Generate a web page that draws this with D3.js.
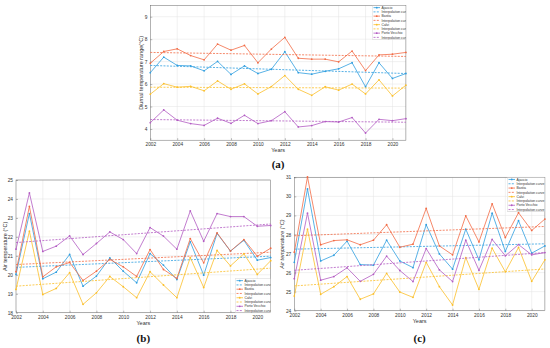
<!DOCTYPE html>
<html>
<head>
<meta charset="utf-8">
<script src="https://d3js.org/d3.v7.min.js"></script>
<style>
  body { margin: 0; background: #fff; }
  svg { display: block; }
  .tick text { font-family: "Liberation Sans", Arial, sans-serif; fill: #333; }
</style>
</head>
<body>
<svg id="chart"></svg>
<script>
// shared
let years = d3.range(2002, 2022);
let xTicks = [2002, 2004, 2006, 2008, 2010, 2012, 2014, 2016, 2018, 2020];
let stationNames = ["Ajaccio", "Bastia", "Calvi", "Porto Vecchio"];
let colors = ["#2f9ee0", "#f26b45", "#fbbf2a", "#b35cc3"];
let trendYears = [2002, 2021];

// (a) diurnal temperature range
let dtrAjaccio = [6.51, 7.20, 6.83, 6.81, 6.59, 7.01, 6.43, 6.81, 6.47, 6.66, 7.44, 6.51, 6.44, 6.57, 6.68, 6.95, 5.88, 6.95, 6.25, 6.47];
let dtrBastia = [6.93, 7.45, 7.57, 7.27, 7.08, 7.78, 7.51, 7.72, 6.95, 7.56, 8.08, 7.15, 7.11, 7.11, 6.99, 7.47, 6.60, 7.30, 7.33, 7.41];
let dtrCalvi = [5.55, 6.02, 5.86, 5.90, 5.70, 6.14, 5.77, 6.01, 5.56, 5.89, 6.38, 5.77, 5.50, 5.88, 5.73, 6.00, 5.56, 6.19, 5.47, 5.95];
let dtrPorto = [4.28, 4.85, 4.39, 4.24, 4.16, 4.48, 4.25, 4.61, 4.24, 4.37, 4.77, 4.09, 4.15, 4.33, 4.31, 4.51, 3.82, 4.43, 4.37, 4.46];
let dtrTrends = [[6.83, 6.47], [7.41, 7.23], [5.86, 5.82], [4.42, 4.30]];
let dtrTicks = [4, 5, 6, 7, 8, 9];

// (b) air temperature
let minAjaccio = [20.02, 23.23, 19.79, 20.14, 21.07, 19.40, 19.93, 20.89, 20.19, 19.58, 21.12, 20.51, 19.75, 21.74, 19.98, 22.18, 21.25, 21.82, 20.77, 20.91];
let minBastia = [20.16, 23.61, 19.89, 20.42, 20.65, 19.70, 20.19, 20.81, 20.42, 19.91, 21.33, 20.28, 19.81, 21.91, 20.63, 22.21, 21.25, 21.86, 20.98, 21.40];
let minCalvi = [19.23, 22.30, 18.96, 19.28, 20.11, 18.44, 19.05, 19.91, 19.37, 18.79, 20.16, 19.46, 18.79, 20.91, 19.33, 21.28, 20.47, 21.11, 20.02, 20.74];
let minPorto = [21.35, 24.32, 21.23, 21.51, 22.05, 21.07, 21.65, 22.26, 21.86, 21.12, 22.49, 22.04, 21.35, 23.37, 21.77, 23.23, 23.07, 23.07, 22.56, 22.60];
let minTrends = [[20.39, 20.98], [20.54, 21.19], [19.40, 20.35], [21.70, 22.68]];
let minTicks = [18, 19, 20, 21, 22, 23, 24, 25];

// (c) air temperature
let maxAjaccio = [26.54, 30.39, 26.61, 26.91, 27.65, 26.42, 26.39, 27.70, 26.61, 26.26, 28.51, 26.98, 26.18, 28.28, 26.67, 29.12, 27.11, 28.72, 27.02, 27.40];
let maxBastia = [27.07, 31.02, 27.46, 27.68, 27.72, 27.46, 27.70, 28.51, 27.33, 27.49, 29.37, 27.40, 26.93, 28.98, 27.61, 29.61, 27.84, 29.14, 28.21, 28.81];
let maxCalvi = [24.77, 28.28, 24.86, 25.26, 25.79, 24.60, 24.88, 25.96, 24.98, 24.70, 26.54, 25.26, 24.30, 26.79, 25.12, 27.28, 26.04, 27.32, 25.54, 26.67];
let maxPorto = [25.68, 29.12, 25.60, 25.79, 26.25, 25.54, 25.91, 26.86, 26.11, 25.53, 27.26, 26.14, 25.53, 27.70, 26.12, 27.74, 26.88, 27.47, 26.93, 27.05];
let maxTrends = [[27.23, 27.51], [27.93, 28.42], [25.30, 26.19], [26.12, 27.05]];
let maxTicks = [24, 25, 26, 27, 28, 29, 30, 31];

let svg = d3.select("#chart")
    .attr("width", 550)
    .attr("height", 348);

svg.append("rect").attr("width", 550).attr("height", 348).attr("fill", "#fff");

let clipCount = 0;

function drawPanel(cfg) {
    let x = d3.scaleLinear().domain([2002, 2021]).range([cfg.left, cfg.right]);
    let y = d3.scaleLinear().domain(cfg.yDomain).range([cfg.bottom, cfg.top]);
    let g = svg.append("g");

    // grid
    g.append("g").selectAll("line.vg")
        .data(xTicks.slice(1))
        .join("line")
        .attr("x1", d => x(d)).attr("x2", d => x(d))
        .attr("y1", cfg.top).attr("y2", cfg.bottom)
        .attr("stroke", "#e3e3e3").attr("stroke-width", 0.5);
    g.append("g").selectAll("line.hg")
        .data(cfg.yTicks)
        .join("line")
        .attr("x1", cfg.left).attr("x2", cfg.right)
        .attr("y1", d => y(d)).attr("y2", d => y(d))
        .attr("stroke", "#e3e3e3").attr("stroke-width", 0.5);

    // axes
    let xAxis = g.append("g")
        .attr("transform", "translate(0," + cfg.bottom + ")")
        .call(d3.axisBottom(x).tickValues(xTicks).tickFormat(d3.format("d")).tickSize(-2).tickPadding(2.5));
    let yAxis = g.append("g")
        .attr("transform", "translate(" + cfg.left + ",0)")
        .call(d3.axisLeft(y).tickValues(cfg.yTicks).tickFormat(d3.format("d")).tickSize(-2).tickPadding(3));
    [xAxis, yAxis].forEach(function (a) {
        a.select(".domain").remove();
        a.selectAll(".tick line").attr("stroke", "#555").attr("stroke-width", 0.4);
        a.selectAll(".tick text").attr("font-size", 4.8);
    });
    g.append("rect")
        .attr("x", cfg.left).attr("y", cfg.top)
        .attr("width", cfg.right - cfg.left).attr("height", cfg.bottom - cfg.top)
        .attr("fill", "none").attr("stroke", "#666").attr("stroke-width", 0.5);

    let line = d3.line().x((d, i) => x(years[i])).y(d => y(d));
    let trendLine = d3.line().x((d, i) => x(trendYears[i])).y(d => y(d));

    cfg.series.forEach(function (values, s) {
        g.append("path")
            .attr("d", line(values))
            .attr("fill", "none")
            .attr("stroke", colors[s])
            .attr("stroke-width", 0.8);
        g.append("g").selectAll("circle")
            .data(values)
            .join("circle")
            .attr("cx", (d, i) => x(years[i]))
            .attr("cy", d => y(d))
            .attr("r", 0.9)
            .attr("fill", colors[s]);
        g.append("path")
            .attr("d", trendLine(cfg.trends[s]))
            .attr("fill", "none")
            .attr("stroke", colors[s])
            .attr("stroke-width", 0.8)
            .attr("stroke-dasharray", "2,1.3");
    });

    // legend
    let lg = cfg.legend;
    clipCount = clipCount + 1;
    let clipId = "clip" + clipCount;
    svg.append("clipPath").attr("id", clipId)
        .append("rect")
        .attr("x", lg.x).attr("y", lg.y)
        .attr("width", lg.w).attr("height", lg.h);
    let leg = g.append("g").attr("clip-path", "url(#" + clipId + ")");
    leg.append("rect")
        .attr("x", lg.x).attr("y", lg.y)
        .attr("width", lg.w).attr("height", lg.h)
        .attr("fill", "#fff").attr("stroke", "#999").attr("stroke-width", 0.4);
    let rowH = lg.h / 8;
    for (let s = 0; s < 4; s++) {
        let labels = [stationNames[s], "Interpolation curve"];
        for (let k = 0; k < 2; k++) {
            let cy = lg.y + rowH * (s * 2 + k + 0.5);
            leg.append("line")
                .attr("x1", lg.x + 1.5).attr("x2", lg.x + 8)
                .attr("y1", cy).attr("y2", cy)
                .attr("stroke", colors[s]).attr("stroke-width", 0.8)
                .attr("stroke-dasharray", k === 1 ? "2,1.3" : null);
            if (k === 0) {
                leg.append("circle").attr("cx", lg.x + 4.75).attr("cy", cy)
                    .attr("r", 0.9).attr("fill", colors[s]);
            }
            leg.append("text")
                .attr("x", lg.x + 9.5).attr("y", cy + 1.2)
                .attr("font-size", 3.4)
                .attr("font-family", "Liberation Sans, Arial, sans-serif")
                .attr("fill", "#333")
                .text(labels[k]);
        }
    }

    // titles
    g.append("text")
        .attr("x", (cfg.left + cfg.right) / 2).attr("y", cfg.bottom + 12)
        .attr("text-anchor", "middle")
        .attr("font-size", 5.5)
        .attr("font-family", "Liberation Sans, Arial, sans-serif")
        .attr("fill", "#333")
        .text("Years");
    g.append("text")
        .attr("transform", "translate(" + cfg.yLabelX + "," + (cfg.top + cfg.bottom) / 2 + ") rotate(-90)")
        .attr("text-anchor", "middle")
        .attr("font-size", 5.5)
        .attr("font-style", cfg.yItalic ? "italic" : "normal")
        .attr("font-family", "Liberation Sans, Arial, sans-serif")
        .attr("fill", "#333")
        .text(cfg.yLabel);
    g.append("text")
        .attr("x", (cfg.left + cfg.right) / 2).attr("y", cfg.tagY)
        .attr("text-anchor", "middle")
        .attr("font-size", 11)
        .attr("font-weight", "bold")
        .attr("font-family", "Liberation Serif, Times New Roman, serif")
        .attr("fill", "#111")
        .text(cfg.tag);
}

drawPanel({
    left: 150.3, right: 405.9, top: 5.5, bottom: 140.2,
    yDomain: [3.5, 9.5], yTicks: dtrTicks,
    series: [dtrAjaccio, dtrBastia, dtrCalvi, dtrPorto], trends: dtrTrends,
    legend: {x: 372, y: 5.5, w: 33.9, h: 34},
    yLabel: "Diurnal temperature range(°C)", yLabelX: 143, yItalic: false,
    tag: "(a)", tagY: 168
});

drawPanel({
    left: 16, right: 270.7, top: 180, bottom: 312.7,
    yDomain: [18, 25], yTicks: minTicks,
    series: [minAjaccio, minBastia, minCalvi, minPorto], trends: minTrends,
    legend: {x: 235, y: 278.5, w: 35.7, h: 34.2},
    yLabel: "Air temperature (°C)", yLabelX: 6.5, yItalic: false,
    tag: "(b)", tagY: 342
});

drawPanel({
    left: 294.3, right: 544.9, top: 177.3, bottom: 310.7,
    yDomain: [24, 31], yTicks: maxTicks,
    series: [maxAjaccio, maxBastia, maxCalvi, maxPorto], trends: maxTrends,
    legend: {x: 507, y: 177.3, w: 37.9, h: 34.4},
    yLabel: "Air temperature (°C)", yLabelX: 284, yItalic: true,
    tag: "(c)", tagY: 342
});
</script>
</body>
</html>
